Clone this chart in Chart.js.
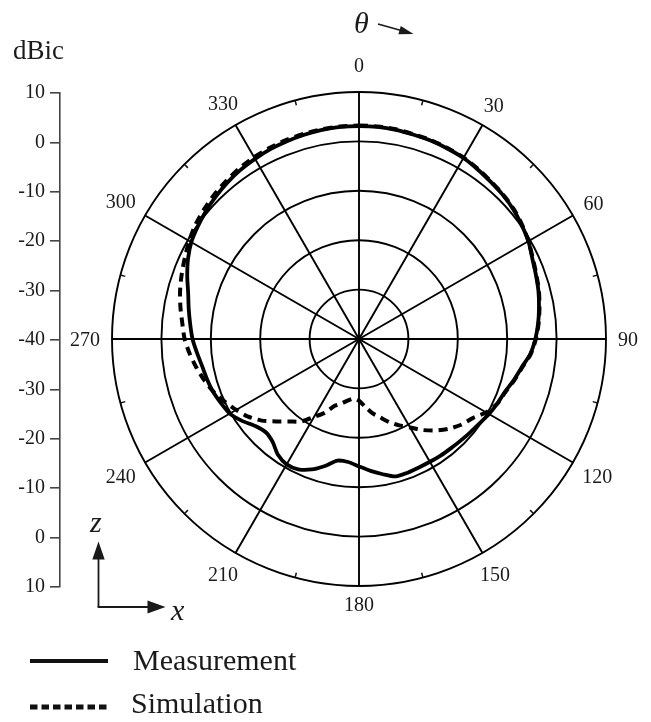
<!DOCTYPE html>
<html>
<head>
<meta charset="utf-8">
<script src="https://cdn.jsdelivr.net/npm/chart.js@4/dist/chart.umd.min.js"></script>
<style>
  html, body { margin: 0; padding: 0; background: #fff; }
  #wrap { position: relative; width: 651px; height: 722px; overflow: hidden; background: #fff; }
  #wrap canvas, #wrap svg { position: absolute; left: 0; top: 0; }
</style>
</head>
<body>
<div id="wrap">
  <canvas id="polar" width="651" height="722"></canvas>
  <canvas id="dbAxis" width="80" height="722"></canvas>
  <svg width="651" height="722" viewBox="0 0 651 722" font-family="'Liberation Serif', 'Times New Roman', serif" fill="#1a1a1a">
    <!-- axis unit -->
    <text x="13" y="59" font-size="27">dBic</text>
    <!-- theta direction -->
    <text x="354" y="33" font-size="30" font-style="italic">θ</text>
    <line x1="378" y1="24" x2="402" y2="30.8" stroke="#1a1a1a" stroke-width="1.7"/>
    <polygon points="413.5,34 398.4,34.2 400.8,26" fill="#1a1a1a"/>
    <!-- coordinate frame -->
    <line x1="98.5" y1="607" x2="98.5" y2="556" stroke="#1a1a1a" stroke-width="1.8"/>
    <polygon points="98.5,541.5 92.3,559.5 104.7,559.5" fill="#1a1a1a"/>
    <line x1="97.6" y1="607" x2="150" y2="607" stroke="#1a1a1a" stroke-width="1.8"/>
    <polygon points="165.5,607 147.5,600.5 147.5,613.5" fill="#1a1a1a"/>
    <text x="90" y="532" font-size="30" font-style="italic">z</text>
    <text x="171" y="620" font-size="30" font-style="italic">x</text>
    <!-- legend -->
    <line x1="30" y1="661" x2="108" y2="661" stroke="#111" stroke-width="4"/>
    <text x="133" y="670" font-size="30">Measurement</text>
    <line x1="30" y1="707" x2="108" y2="707" stroke="#111" stroke-width="5" stroke-dasharray="7.5 4"/>
    <text x="131" y="713" font-size="30">Simulation</text>
  </svg>
</div>
<script>
// Elevation angle (degrees, clockwise from zenith)
const thetaDeg = [
  0, 5, 10, 15, 20, 25, 30, 35, 40, 45, 50, 55,
  60, 65, 70, 75, 80, 85, 90, 95, 100, 105, 110, 115,
  120, 125, 130, 135, 140, 145, 150, 155, 160, 165, 170, 175,
  180, 185, 190, 195, 200, 205, 210, 215, 220, 225, 230, 235,
  240, 245, 250, 255, 260, 265, 270, 275, 280, 285, 290, 295,
  300, 305, 310, 315, 320, 325, 330, 335, 340, 345, 350, 355
];

// Measured gain (dBic)
const measurement = [
  3.1, 3.1, 3.0, 2.8, 2.7, 2.5, 2.3, 1.9, 1.5, 1.2, 0.8, 0.2,
  -0.4, -1.3, -1.9, -2.4, -3.0, -3.6, -4.3, -5.2, -6.6, -7.6, -8.6, -9.1,
  -9.6, -10.2, -10.6, -10.9, -11.1, -11.2, -11.3, -11.3, -11.2, -11.2, -12.2, -13.2,
  -14.2, -15.0, -15.0, -13.4, -11.9, -10.9, -10.7, -11.4, -12.8, -13.3, -12.6, -11.1,
  -9.8, -9.2, -8.6, -8.2, -7.8, -7.1, -6.3, -5.7, -5.0, -4.2, -3.0, -1.8,
  -0.8, -0.2, 0.4, 0.9, 1.4, 1.8, 2.1, 2.4, 2.6, 2.8, 3.0, 3.1
];

// Simulated gain (dBic)
const simulation = [
  3.2, 3.2, 3.1, 2.9, 2.8, 2.6, 2.4, 2.0, 1.6, 1.3, 0.9, 0.3,
  -0.4, -1.2, -1.8, -2.3, -2.9, -3.5, -4.2, -5.1, -6.5, -7.5, -8.5, -9.1,
  -10.3, -12.0, -13.0, -14.3, -15.8, -17.5, -19.3, -20.7, -22.1, -23.6, -24.8, -26.3,
  -27.5, -27.9, -27.4, -26.5, -25.6, -23.5, -21.8, -19.6, -18.2, -16.4, -14.3, -12.6,
  -11.3, -10.0, -8.7, -7.6, -6.6, -5.6, -4.7, -4.1, -3.3, -2.5, -1.8, -1.1,
  -0.3, 0.4, 0.9, 1.4, 1.8, 2.2, 2.5, 2.7, 2.9, 3.0, 3.1, 3.2
];

// Labelled spokes every 30 degrees
const angleTickLabels = ['0', '30', '60', '90', '120', '150', '180', '210', '240', '270', '300', '330'];

// Mirrored dB scale beside the plot (top rim -> centre -> bottom rim)
const dbAxisLabels = ['10', '0', '-10', '-20', '-30', '-40', '-30', '-20', '-10', '0', '10'];

const serif = "'Liberation Serif', 'Times New Roman', serif";
const spokeEvery = 6; // 30 deg / 5 deg

// Angle labels around the rim plus short minor ticks at the 15-degree midpoints
const thetaMarks = {
  id: 'thetaMarks',
  afterDraw(chart) {
    const s = chart.scales.r;
    const ctx = chart.ctx;
    const R = s.drawingArea;
    ctx.save();
    ctx.strokeStyle = '#111';
    ctx.lineWidth = 1.5;
    for (let i = spokeEvery / 2; i < thetaDeg.length; i += spokeEvery) {
      const a = s.getPointPosition(i, R);
      const b = s.getPointPosition(i, R - 5);
      ctx.beginPath();
      ctx.moveTo(a.x, a.y);
      ctx.lineTo(b.x, b.y);
      ctx.stroke();
    }
    ctx.font = '20px ' + serif;
    ctx.fillStyle = '#1a1a1a';
    ctx.textAlign = 'center';
    ctx.textBaseline = 'alphabetic';
    const h = 13;
    angleTickLabels.forEach((txt, k) => {
      const idx = k * spokeEvery;
      const ang = s.getIndexAngle(idx);
      const w = ctx.measureText(txt).width;
      const ext = Math.abs(Math.sin(ang)) * w / 2 + Math.abs(Math.cos(ang)) * h / 2;
      const gap = idx === 0 ? 20 : 12;
      const p = s.getPointPosition(idx, R + gap + ext);
      ctx.fillText(txt, p.x, p.y + h / 2);
    });
    ctx.restore();
  }
};

new Chart(document.getElementById('polar'), {
  type: 'radar',
  data: {
    labels: thetaDeg,
    datasets: [
      {
        label: 'Measurement',
        data: measurement,
        borderColor: '#000',
        borderWidth: 3.8,
        fill: false,
        pointRadius: 0,
        tension: 0.25
      },
      {
        label: 'Simulation',
        data: simulation,
        borderColor: '#000',
        borderWidth: 4,
        borderDash: [9, 6],
        fill: false,
        pointRadius: 0,
        tension: 0.25
      }
    ]
  },
  options: {
    responsive: false,
    animation: false,
    devicePixelRatio: 1,
    layout: { padding: { left: 112, top: 92, right: 45, bottom: 136 } },
    plugins: { legend: { display: false }, tooltip: { enabled: false } },
    scales: {
      r: {
        min: -40,
        max: 10,
        startAngle: 0,
        ticks: { display: false, stepSize: 10 },
        grid: { circular: true, color: '#000', lineWidth: 1.9 },
        angleLines: {
          display: true,
          color: '#000',
          lineWidth: (c) => (c.index % spokeEvery === 0 ? 1.9 : 0)
        },
        pointLabels: { display: false }
      }
    }
  },
  plugins: [thetaMarks]
});

new Chart(document.getElementById('dbAxis'), {
  type: 'scatter',
  data: { datasets: [] },
  options: {
    responsive: false,
    animation: false,
    devicePixelRatio: 1,
    layout: { padding: { left: 10, right: 19, top: 93, bottom: 135 } },
    plugins: { legend: { display: false }, tooltip: { enabled: false } },
    scales: {
      x: { display: false, min: 0, max: 1 },
      y: {
        position: 'left',
        min: -50,
        max: 50,
        afterFit(scale) { scale.width = 50; },
        ticks: {
          stepSize: 10,
          padding: 5,
          color: '#1a1a1a',
          font: { family: serif, size: 20 },
          callback: (v, i) => dbAxisLabels[i]
        },
        grid: { drawOnChartArea: false, drawTicks: true, tickLength: 10, color: '#444', lineWidth: 1.6 },
        border: { display: true, color: '#444', width: 1.6 }
      }
    }
  }
});
</script>
</body>
</html>
